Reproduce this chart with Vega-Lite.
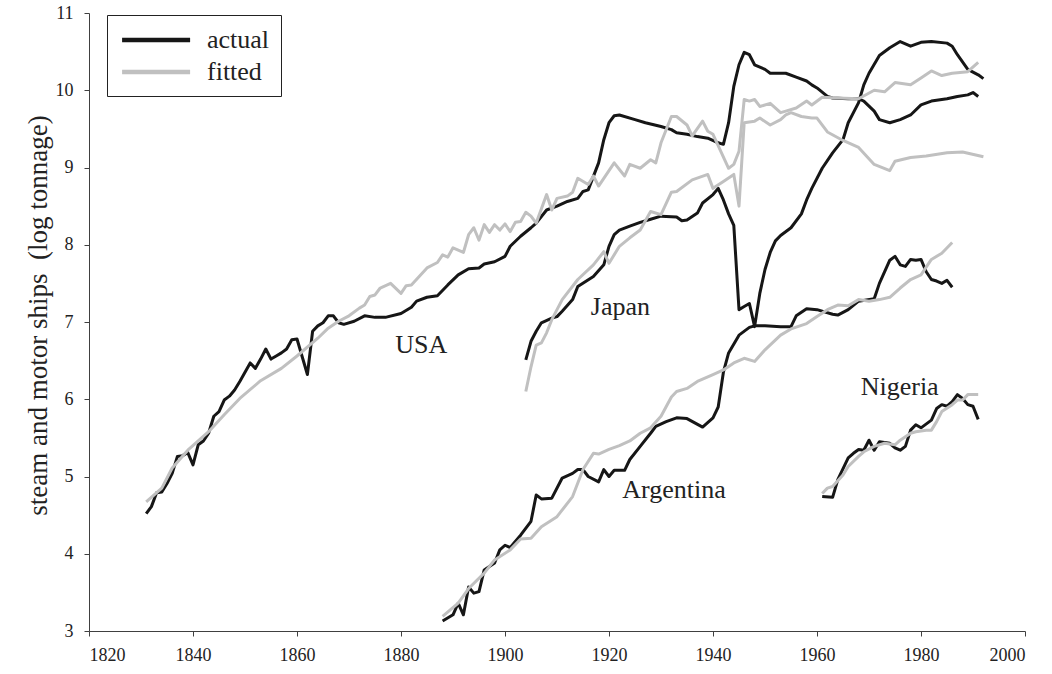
{
  "$schema": "https://vega.github.io/schema/vega-lite/v6.json",
  "width": 936,
  "height": 618,
  "autosize": {"type": "none"},
  "padding": {"left": 89, "top": 13, "right": 27, "bottom": 43},
  "background": "white",
  "config": {
    "view": {"stroke": null},
    "font": "Liberation Serif",
    "axis": {
      "labelFont": "Liberation Serif",
      "labelFontSize": 18,
      "labelColor": "#222222",
      "domainColor": "#404040",
      "tickColor": "#404040",
      "tickSize": 5,
      "grid": false,
      "titleFont": "Liberation Serif",
      "titleFontWeight": "normal",
      "titleColor": "#222222"
    },
    "legend": {
      "labelFont": "Liberation Serif",
      "labelFontSize": 26,
      "labelColor": "#222222"
    }
  },
  "datasets": {
    "lines": [
      {"country":"USA","series":"actual","year":1831,"value":4.52},
      {"country":"USA","series":"actual","year":1832,"value":4.61},
      {"country":"USA","series":"actual","year":1833,"value":4.79},
      {"country":"USA","series":"actual","year":1834,"value":4.80},
      {"country":"USA","series":"actual","year":1835,"value":4.91},
      {"country":"USA","series":"actual","year":1836,"value":5.04},
      {"country":"USA","series":"actual","year":1837,"value":5.26},
      {"country":"USA","series":"actual","year":1838,"value":5.27},
      {"country":"USA","series":"actual","year":1839,"value":5.31},
      {"country":"USA","series":"actual","year":1840,"value":5.15},
      {"country":"USA","series":"actual","year":1841,"value":5.41},
      {"country":"USA","series":"actual","year":1842,"value":5.46},
      {"country":"USA","series":"actual","year":1843,"value":5.56},
      {"country":"USA","series":"actual","year":1844,"value":5.78},
      {"country":"USA","series":"actual","year":1845,"value":5.84},
      {"country":"USA","series":"actual","year":1846,"value":5.99},
      {"country":"USA","series":"actual","year":1847,"value":6.04},
      {"country":"USA","series":"actual","year":1848,"value":6.12},
      {"country":"USA","series":"actual","year":1849,"value":6.23},
      {"country":"USA","series":"actual","year":1850,"value":6.35},
      {"country":"USA","series":"actual","year":1851,"value":6.47},
      {"country":"USA","series":"actual","year":1852,"value":6.40},
      {"country":"USA","series":"actual","year":1853,"value":6.52},
      {"country":"USA","series":"actual","year":1854,"value":6.65},
      {"country":"USA","series":"actual","year":1855,"value":6.52},
      {"country":"USA","series":"actual","year":1856,"value":6.56},
      {"country":"USA","series":"actual","year":1857,"value":6.60},
      {"country":"USA","series":"actual","year":1858,"value":6.65},
      {"country":"USA","series":"actual","year":1859,"value":6.77},
      {"country":"USA","series":"actual","year":1860,"value":6.78},
      {"country":"USA","series":"actual","year":1862,"value":6.32},
      {"country":"USA","series":"actual","year":1863,"value":6.88},
      {"country":"USA","series":"actual","year":1864,"value":6.95},
      {"country":"USA","series":"actual","year":1865,"value":6.99},
      {"country":"USA","series":"actual","year":1866,"value":7.08},
      {"country":"USA","series":"actual","year":1867,"value":7.08},
      {"country":"USA","series":"actual","year":1868,"value":6.99},
      {"country":"USA","series":"actual","year":1869,"value":6.97},
      {"country":"USA","series":"actual","year":1871,"value":7.01},
      {"country":"USA","series":"actual","year":1873,"value":7.08},
      {"country":"USA","series":"actual","year":1875,"value":7.06},
      {"country":"USA","series":"actual","year":1877,"value":7.06},
      {"country":"USA","series":"actual","year":1880,"value":7.11},
      {"country":"USA","series":"actual","year":1882,"value":7.19},
      {"country":"USA","series":"actual","year":1883,"value":7.27},
      {"country":"USA","series":"actual","year":1885,"value":7.32},
      {"country":"USA","series":"actual","year":1887,"value":7.34},
      {"country":"USA","series":"actual","year":1889,"value":7.48},
      {"country":"USA","series":"actual","year":1891,"value":7.61},
      {"country":"USA","series":"actual","year":1893,"value":7.69},
      {"country":"USA","series":"actual","year":1895,"value":7.70},
      {"country":"USA","series":"actual","year":1896,"value":7.75},
      {"country":"USA","series":"actual","year":1898,"value":7.78},
      {"country":"USA","series":"actual","year":1900,"value":7.85},
      {"country":"USA","series":"actual","year":1901,"value":7.98},
      {"country":"USA","series":"actual","year":1903,"value":8.11},
      {"country":"USA","series":"actual","year":1905,"value":8.22},
      {"country":"USA","series":"actual","year":1906,"value":8.28},
      {"country":"USA","series":"actual","year":1908,"value":8.45},
      {"country":"USA","series":"actual","year":1910,"value":8.50},
      {"country":"USA","series":"actual","year":1912,"value":8.56},
      {"country":"USA","series":"actual","year":1914,"value":8.60},
      {"country":"USA","series":"actual","year":1915,"value":8.69},
      {"country":"USA","series":"actual","year":1916,"value":8.71},
      {"country":"USA","series":"actual","year":1918,"value":9.06},
      {"country":"USA","series":"actual","year":1919,"value":9.36},
      {"country":"USA","series":"actual","year":1920,"value":9.58},
      {"country":"USA","series":"actual","year":1921,"value":9.67},
      {"country":"USA","series":"actual","year":1922,"value":9.68},
      {"country":"USA","series":"actual","year":1925,"value":9.62},
      {"country":"USA","series":"actual","year":1927,"value":9.58},
      {"country":"USA","series":"actual","year":1930,"value":9.53},
      {"country":"USA","series":"actual","year":1932,"value":9.49},
      {"country":"USA","series":"actual","year":1933,"value":9.45},
      {"country":"USA","series":"actual","year":1935,"value":9.43},
      {"country":"USA","series":"actual","year":1937,"value":9.40},
      {"country":"USA","series":"actual","year":1939,"value":9.38},
      {"country":"USA","series":"actual","year":1941,"value":9.32},
      {"country":"USA","series":"actual","year":1942,"value":9.30},
      {"country":"USA","series":"actual","year":1943,"value":9.58},
      {"country":"USA","series":"actual","year":1944,"value":10.05},
      {"country":"USA","series":"actual","year":1945,"value":10.33},
      {"country":"USA","series":"actual","year":1946,"value":10.49},
      {"country":"USA","series":"actual","year":1947,"value":10.46},
      {"country":"USA","series":"actual","year":1948,"value":10.33},
      {"country":"USA","series":"actual","year":1950,"value":10.27},
      {"country":"USA","series":"actual","year":1951,"value":10.22},
      {"country":"USA","series":"actual","year":1954,"value":10.22},
      {"country":"USA","series":"actual","year":1956,"value":10.17},
      {"country":"USA","series":"actual","year":1958,"value":10.12},
      {"country":"USA","series":"actual","year":1959,"value":10.07},
      {"country":"USA","series":"actual","year":1960,"value":10.03},
      {"country":"USA","series":"actual","year":1962,"value":9.92},
      {"country":"USA","series":"actual","year":1963,"value":9.90},
      {"country":"USA","series":"actual","year":1966,"value":9.89},
      {"country":"USA","series":"actual","year":1968,"value":9.89},
      {"country":"USA","series":"actual","year":1969,"value":9.86},
      {"country":"USA","series":"actual","year":1971,"value":9.73},
      {"country":"USA","series":"actual","year":1972,"value":9.62},
      {"country":"USA","series":"actual","year":1974,"value":9.58},
      {"country":"USA","series":"actual","year":1976,"value":9.62},
      {"country":"USA","series":"actual","year":1978,"value":9.68},
      {"country":"USA","series":"actual","year":1980,"value":9.81},
      {"country":"USA","series":"actual","year":1982,"value":9.86},
      {"country":"USA","series":"actual","year":1985,"value":9.89},
      {"country":"USA","series":"actual","year":1987,"value":9.92},
      {"country":"USA","series":"actual","year":1989,"value":9.94},
      {"country":"USA","series":"actual","year":1990,"value":9.97},
      {"country":"USA","series":"actual","year":1991,"value":9.92},

      {"country":"USA","series":"fitted","year":1831,"value":4.67},
      {"country":"USA","series":"fitted","year":1834,"value":4.85},
      {"country":"USA","series":"fitted","year":1836,"value":5.11},
      {"country":"USA","series":"fitted","year":1839,"value":5.34},
      {"country":"USA","series":"fitted","year":1843,"value":5.58},
      {"country":"USA","series":"fitted","year":1846,"value":5.80},
      {"country":"USA","series":"fitted","year":1849,"value":6.01},
      {"country":"USA","series":"fitted","year":1853,"value":6.24},
      {"country":"USA","series":"fitted","year":1857,"value":6.40},
      {"country":"USA","series":"fitted","year":1860,"value":6.56},
      {"country":"USA","series":"fitted","year":1864,"value":6.79},
      {"country":"USA","series":"fitted","year":1866,"value":6.92},
      {"country":"USA","series":"fitted","year":1868,"value":7.01},
      {"country":"USA","series":"fitted","year":1870,"value":7.08},
      {"country":"USA","series":"fitted","year":1872,"value":7.18},
      {"country":"USA","series":"fitted","year":1873,"value":7.22},
      {"country":"USA","series":"fitted","year":1874,"value":7.33},
      {"country":"USA","series":"fitted","year":1875,"value":7.35},
      {"country":"USA","series":"fitted","year":1876,"value":7.44},
      {"country":"USA","series":"fitted","year":1878,"value":7.50},
      {"country":"USA","series":"fitted","year":1880,"value":7.37},
      {"country":"USA","series":"fitted","year":1881,"value":7.47},
      {"country":"USA","series":"fitted","year":1882,"value":7.48},
      {"country":"USA","series":"fitted","year":1885,"value":7.70},
      {"country":"USA","series":"fitted","year":1887,"value":7.77},
      {"country":"USA","series":"fitted","year":1888,"value":7.87},
      {"country":"USA","series":"fitted","year":1889,"value":7.84},
      {"country":"USA","series":"fitted","year":1890,"value":7.96},
      {"country":"USA","series":"fitted","year":1892,"value":7.90},
      {"country":"USA","series":"fitted","year":1893,"value":8.13},
      {"country":"USA","series":"fitted","year":1894,"value":8.22},
      {"country":"USA","series":"fitted","year":1895,"value":8.06},
      {"country":"USA","series":"fitted","year":1896,"value":8.26},
      {"country":"USA","series":"fitted","year":1897,"value":8.16},
      {"country":"USA","series":"fitted","year":1898,"value":8.26},
      {"country":"USA","series":"fitted","year":1899,"value":8.19},
      {"country":"USA","series":"fitted","year":1900,"value":8.27},
      {"country":"USA","series":"fitted","year":1901,"value":8.17},
      {"country":"USA","series":"fitted","year":1902,"value":8.29},
      {"country":"USA","series":"fitted","year":1903,"value":8.30},
      {"country":"USA","series":"fitted","year":1904,"value":8.42},
      {"country":"USA","series":"fitted","year":1905,"value":8.37},
      {"country":"USA","series":"fitted","year":1906,"value":8.28},
      {"country":"USA","series":"fitted","year":1908,"value":8.65},
      {"country":"USA","series":"fitted","year":1909,"value":8.45},
      {"country":"USA","series":"fitted","year":1910,"value":8.60},
      {"country":"USA","series":"fitted","year":1912,"value":8.63},
      {"country":"USA","series":"fitted","year":1913,"value":8.68},
      {"country":"USA","series":"fitted","year":1914,"value":8.86},
      {"country":"USA","series":"fitted","year":1916,"value":8.78},
      {"country":"USA","series":"fitted","year":1917,"value":8.89},
      {"country":"USA","series":"fitted","year":1918,"value":8.76},
      {"country":"USA","series":"fitted","year":1921,"value":9.06},
      {"country":"USA","series":"fitted","year":1923,"value":8.89},
      {"country":"USA","series":"fitted","year":1924,"value":9.04},
      {"country":"USA","series":"fitted","year":1926,"value":8.99},
      {"country":"USA","series":"fitted","year":1928,"value":9.10},
      {"country":"USA","series":"fitted","year":1929,"value":9.06},
      {"country":"USA","series":"fitted","year":1930,"value":9.32},
      {"country":"USA","series":"fitted","year":1932,"value":9.66},
      {"country":"USA","series":"fitted","year":1933,"value":9.66},
      {"country":"USA","series":"fitted","year":1935,"value":9.55},
      {"country":"USA","series":"fitted","year":1936,"value":9.41},
      {"country":"USA","series":"fitted","year":1938,"value":9.60},
      {"country":"USA","series":"fitted","year":1939,"value":9.47},
      {"country":"USA","series":"fitted","year":1940,"value":9.43},
      {"country":"USA","series":"fitted","year":1943,"value":8.99},
      {"country":"USA","series":"fitted","year":1944,"value":9.04},
      {"country":"USA","series":"fitted","year":1945,"value":9.21},
      {"country":"USA","series":"fitted","year":1946,"value":9.88},
      {"country":"USA","series":"fitted","year":1947,"value":9.86},
      {"country":"USA","series":"fitted","year":1948,"value":9.88},
      {"country":"USA","series":"fitted","year":1949,"value":9.79},
      {"country":"USA","series":"fitted","year":1951,"value":9.83},
      {"country":"USA","series":"fitted","year":1953,"value":9.71},
      {"country":"USA","series":"fitted","year":1954,"value":9.73},
      {"country":"USA","series":"fitted","year":1956,"value":9.77},
      {"country":"USA","series":"fitted","year":1958,"value":9.86},
      {"country":"USA","series":"fitted","year":1959,"value":9.81},
      {"country":"USA","series":"fitted","year":1961,"value":9.91},
      {"country":"USA","series":"fitted","year":1964,"value":9.90},
      {"country":"USA","series":"fitted","year":1968,"value":9.89},
      {"country":"USA","series":"fitted","year":1971,"value":10.00},
      {"country":"USA","series":"fitted","year":1973,"value":9.98},
      {"country":"USA","series":"fitted","year":1975,"value":10.10},
      {"country":"USA","series":"fitted","year":1978,"value":10.07},
      {"country":"USA","series":"fitted","year":1980,"value":10.16},
      {"country":"USA","series":"fitted","year":1982,"value":10.25},
      {"country":"USA","series":"fitted","year":1984,"value":10.19},
      {"country":"USA","series":"fitted","year":1986,"value":10.22},
      {"country":"USA","series":"fitted","year":1989,"value":10.24},
      {"country":"USA","series":"fitted","year":1991,"value":10.36},

      {"country":"Japan","series":"actual","year":1904,"value":6.51},
      {"country":"Japan","series":"actual","year":1905,"value":6.75},
      {"country":"Japan","series":"actual","year":1906,"value":6.88},
      {"country":"Japan","series":"actual","year":1907,"value":6.99},
      {"country":"Japan","series":"actual","year":1909,"value":7.05},
      {"country":"Japan","series":"actual","year":1910,"value":7.07},
      {"country":"Japan","series":"actual","year":1911,"value":7.14},
      {"country":"Japan","series":"actual","year":1913,"value":7.29},
      {"country":"Japan","series":"actual","year":1914,"value":7.46},
      {"country":"Japan","series":"actual","year":1917,"value":7.59},
      {"country":"Japan","series":"actual","year":1919,"value":7.74},
      {"country":"Japan","series":"actual","year":1920,"value":7.98},
      {"country":"Japan","series":"actual","year":1921,"value":8.13},
      {"country":"Japan","series":"actual","year":1922,"value":8.19},
      {"country":"Japan","series":"actual","year":1924,"value":8.24},
      {"country":"Japan","series":"actual","year":1926,"value":8.29},
      {"country":"Japan","series":"actual","year":1928,"value":8.33},
      {"country":"Japan","series":"actual","year":1930,"value":8.37},
      {"country":"Japan","series":"actual","year":1933,"value":8.36},
      {"country":"Japan","series":"actual","year":1934,"value":8.31},
      {"country":"Japan","series":"actual","year":1935,"value":8.32},
      {"country":"Japan","series":"actual","year":1937,"value":8.41},
      {"country":"Japan","series":"actual","year":1938,"value":8.54},
      {"country":"Japan","series":"actual","year":1940,"value":8.65},
      {"country":"Japan","series":"actual","year":1941,"value":8.73},
      {"country":"Japan","series":"actual","year":1942,"value":8.58},
      {"country":"Japan","series":"actual","year":1943,"value":8.40},
      {"country":"Japan","series":"actual","year":1944,"value":8.25},
      {"country":"Japan","series":"actual","year":1945,"value":7.16},
      {"country":"Japan","series":"actual","year":1946,"value":7.20},
      {"country":"Japan","series":"actual","year":1947,"value":7.24},
      {"country":"Japan","series":"actual","year":1948,"value":6.94},
      {"country":"Japan","series":"actual","year":1949,"value":7.37},
      {"country":"Japan","series":"actual","year":1950,"value":7.68},
      {"country":"Japan","series":"actual","year":1951,"value":7.90},
      {"country":"Japan","series":"actual","year":1952,"value":8.05},
      {"country":"Japan","series":"actual","year":1953,"value":8.12},
      {"country":"Japan","series":"actual","year":1955,"value":8.22},
      {"country":"Japan","series":"actual","year":1957,"value":8.40},
      {"country":"Japan","series":"actual","year":1958,"value":8.58},
      {"country":"Japan","series":"actual","year":1959,"value":8.73},
      {"country":"Japan","series":"actual","year":1961,"value":8.99},
      {"country":"Japan","series":"actual","year":1963,"value":9.19},
      {"country":"Japan","series":"actual","year":1965,"value":9.36},
      {"country":"Japan","series":"actual","year":1966,"value":9.58},
      {"country":"Japan","series":"actual","year":1968,"value":9.84},
      {"country":"Japan","series":"actual","year":1969,"value":10.07},
      {"country":"Japan","series":"actual","year":1970,"value":10.22},
      {"country":"Japan","series":"actual","year":1972,"value":10.45},
      {"country":"Japan","series":"actual","year":1974,"value":10.55},
      {"country":"Japan","series":"actual","year":1976,"value":10.63},
      {"country":"Japan","series":"actual","year":1978,"value":10.57},
      {"country":"Japan","series":"actual","year":1980,"value":10.62},
      {"country":"Japan","series":"actual","year":1982,"value":10.63},
      {"country":"Japan","series":"actual","year":1985,"value":10.61},
      {"country":"Japan","series":"actual","year":1986,"value":10.57},
      {"country":"Japan","series":"actual","year":1987,"value":10.46},
      {"country":"Japan","series":"actual","year":1989,"value":10.27},
      {"country":"Japan","series":"actual","year":1991,"value":10.20},
      {"country":"Japan","series":"actual","year":1992,"value":10.15},

      {"country":"Japan","series":"fitted","year":1904,"value":6.10},
      {"country":"Japan","series":"fitted","year":1905,"value":6.42},
      {"country":"Japan","series":"fitted","year":1906,"value":6.70},
      {"country":"Japan","series":"fitted","year":1907,"value":6.73},
      {"country":"Japan","series":"fitted","year":1908,"value":6.86},
      {"country":"Japan","series":"fitted","year":1909,"value":7.03},
      {"country":"Japan","series":"fitted","year":1911,"value":7.29},
      {"country":"Japan","series":"fitted","year":1914,"value":7.55},
      {"country":"Japan","series":"fitted","year":1917,"value":7.74},
      {"country":"Japan","series":"fitted","year":1919,"value":7.91},
      {"country":"Japan","series":"fitted","year":1920,"value":7.76},
      {"country":"Japan","series":"fitted","year":1922,"value":7.98},
      {"country":"Japan","series":"fitted","year":1924,"value":8.09},
      {"country":"Japan","series":"fitted","year":1926,"value":8.19},
      {"country":"Japan","series":"fitted","year":1928,"value":8.43},
      {"country":"Japan","series":"fitted","year":1930,"value":8.39},
      {"country":"Japan","series":"fitted","year":1932,"value":8.68},
      {"country":"Japan","series":"fitted","year":1933,"value":8.69},
      {"country":"Japan","series":"fitted","year":1936,"value":8.84},
      {"country":"Japan","series":"fitted","year":1939,"value":8.91},
      {"country":"Japan","series":"fitted","year":1940,"value":8.73},
      {"country":"Japan","series":"fitted","year":1942,"value":8.82},
      {"country":"Japan","series":"fitted","year":1944,"value":8.91},
      {"country":"Japan","series":"fitted","year":1945,"value":8.50},
      {"country":"Japan","series":"fitted","year":1946,"value":9.58},
      {"country":"Japan","series":"fitted","year":1948,"value":9.60},
      {"country":"Japan","series":"fitted","year":1949,"value":9.64},
      {"country":"Japan","series":"fitted","year":1951,"value":9.55},
      {"country":"Japan","series":"fitted","year":1953,"value":9.62},
      {"country":"Japan","series":"fitted","year":1954,"value":9.68},
      {"country":"Japan","series":"fitted","year":1955,"value":9.71},
      {"country":"Japan","series":"fitted","year":1957,"value":9.66},
      {"country":"Japan","series":"fitted","year":1959,"value":9.64},
      {"country":"Japan","series":"fitted","year":1960,"value":9.64},
      {"country":"Japan","series":"fitted","year":1962,"value":9.46},
      {"country":"Japan","series":"fitted","year":1965,"value":9.35},
      {"country":"Japan","series":"fitted","year":1968,"value":9.26},
      {"country":"Japan","series":"fitted","year":1971,"value":9.04},
      {"country":"Japan","series":"fitted","year":1974,"value":8.96},
      {"country":"Japan","series":"fitted","year":1975,"value":9.08},
      {"country":"Japan","series":"fitted","year":1978,"value":9.13},
      {"country":"Japan","series":"fitted","year":1981,"value":9.15},
      {"country":"Japan","series":"fitted","year":1985,"value":9.19},
      {"country":"Japan","series":"fitted","year":1988,"value":9.20},
      {"country":"Japan","series":"fitted","year":1992,"value":9.14},

      {"country":"Argentina","series":"actual","year":1888,"value":3.13},
      {"country":"Argentina","series":"actual","year":1890,"value":3.21},
      {"country":"Argentina","series":"actual","year":1891,"value":3.36},
      {"country":"Argentina","series":"actual","year":1892,"value":3.21},
      {"country":"Argentina","series":"actual","year":1893,"value":3.57},
      {"country":"Argentina","series":"actual","year":1894,"value":3.49},
      {"country":"Argentina","series":"actual","year":1895,"value":3.51},
      {"country":"Argentina","series":"actual","year":1896,"value":3.79},
      {"country":"Argentina","series":"actual","year":1898,"value":3.88},
      {"country":"Argentina","series":"actual","year":1899,"value":4.05},
      {"country":"Argentina","series":"actual","year":1900,"value":4.11},
      {"country":"Argentina","series":"actual","year":1901,"value":4.08},
      {"country":"Argentina","series":"actual","year":1903,"value":4.24},
      {"country":"Argentina","series":"actual","year":1905,"value":4.42},
      {"country":"Argentina","series":"actual","year":1906,"value":4.76},
      {"country":"Argentina","series":"actual","year":1907,"value":4.71},
      {"country":"Argentina","series":"actual","year":1909,"value":4.72},
      {"country":"Argentina","series":"actual","year":1911,"value":4.98},
      {"country":"Argentina","series":"actual","year":1913,"value":5.04},
      {"country":"Argentina","series":"actual","year":1914,"value":5.09},
      {"country":"Argentina","series":"actual","year":1915,"value":5.09},
      {"country":"Argentina","series":"actual","year":1916,"value":5.00},
      {"country":"Argentina","series":"actual","year":1918,"value":4.93},
      {"country":"Argentina","series":"actual","year":1919,"value":5.09},
      {"country":"Argentina","series":"actual","year":1920,"value":5.00},
      {"country":"Argentina","series":"actual","year":1921,"value":5.08},
      {"country":"Argentina","series":"actual","year":1923,"value":5.08},
      {"country":"Argentina","series":"actual","year":1924,"value":5.22},
      {"country":"Argentina","series":"actual","year":1926,"value":5.39},
      {"country":"Argentina","series":"actual","year":1928,"value":5.56},
      {"country":"Argentina","series":"actual","year":1929,"value":5.65},
      {"country":"Argentina","series":"actual","year":1931,"value":5.71},
      {"country":"Argentina","series":"actual","year":1933,"value":5.76},
      {"country":"Argentina","series":"actual","year":1935,"value":5.75},
      {"country":"Argentina","series":"actual","year":1938,"value":5.64},
      {"country":"Argentina","series":"actual","year":1940,"value":5.76},
      {"country":"Argentina","series":"actual","year":1941,"value":5.90},
      {"country":"Argentina","series":"actual","year":1942,"value":6.35},
      {"country":"Argentina","series":"actual","year":1943,"value":6.60},
      {"country":"Argentina","series":"actual","year":1945,"value":6.83},
      {"country":"Argentina","series":"actual","year":1947,"value":6.93},
      {"country":"Argentina","series":"actual","year":1948,"value":6.95},
      {"country":"Argentina","series":"actual","year":1950,"value":6.95},
      {"country":"Argentina","series":"actual","year":1953,"value":6.94},
      {"country":"Argentina","series":"actual","year":1955,"value":6.94},
      {"country":"Argentina","series":"actual","year":1956,"value":7.08},
      {"country":"Argentina","series":"actual","year":1958,"value":7.17},
      {"country":"Argentina","series":"actual","year":1960,"value":7.16},
      {"country":"Argentina","series":"actual","year":1963,"value":7.10},
      {"country":"Argentina","series":"actual","year":1964,"value":7.09},
      {"country":"Argentina","series":"actual","year":1966,"value":7.16},
      {"country":"Argentina","series":"actual","year":1968,"value":7.27},
      {"country":"Argentina","series":"actual","year":1971,"value":7.30},
      {"country":"Argentina","series":"actual","year":1972,"value":7.50},
      {"country":"Argentina","series":"actual","year":1974,"value":7.80},
      {"country":"Argentina","series":"actual","year":1975,"value":7.85},
      {"country":"Argentina","series":"actual","year":1976,"value":7.74},
      {"country":"Argentina","series":"actual","year":1977,"value":7.72},
      {"country":"Argentina","series":"actual","year":1978,"value":7.81},
      {"country":"Argentina","series":"actual","year":1979,"value":7.80},
      {"country":"Argentina","series":"actual","year":1980,"value":7.81},
      {"country":"Argentina","series":"actual","year":1981,"value":7.65},
      {"country":"Argentina","series":"actual","year":1982,"value":7.55},
      {"country":"Argentina","series":"actual","year":1983,"value":7.53},
      {"country":"Argentina","series":"actual","year":1984,"value":7.50},
      {"country":"Argentina","series":"actual","year":1985,"value":7.54},
      {"country":"Argentina","series":"actual","year":1986,"value":7.45},

      {"country":"Argentina","series":"fitted","year":1888,"value":3.19},
      {"country":"Argentina","series":"fitted","year":1891,"value":3.36},
      {"country":"Argentina","series":"fitted","year":1893,"value":3.55},
      {"country":"Argentina","series":"fitted","year":1896,"value":3.75},
      {"country":"Argentina","series":"fitted","year":1898,"value":3.92},
      {"country":"Argentina","series":"fitted","year":1901,"value":4.05},
      {"country":"Argentina","series":"fitted","year":1903,"value":4.19},
      {"country":"Argentina","series":"fitted","year":1905,"value":4.20},
      {"country":"Argentina","series":"fitted","year":1907,"value":4.35},
      {"country":"Argentina","series":"fitted","year":1910,"value":4.48},
      {"country":"Argentina","series":"fitted","year":1913,"value":4.74},
      {"country":"Argentina","series":"fitted","year":1915,"value":5.09},
      {"country":"Argentina","series":"fitted","year":1917,"value":5.30},
      {"country":"Argentina","series":"fitted","year":1918,"value":5.29},
      {"country":"Argentina","series":"fitted","year":1920,"value":5.35},
      {"country":"Argentina","series":"fitted","year":1922,"value":5.40},
      {"country":"Argentina","series":"fitted","year":1924,"value":5.46},
      {"country":"Argentina","series":"fitted","year":1926,"value":5.56},
      {"country":"Argentina","series":"fitted","year":1928,"value":5.63},
      {"country":"Argentina","series":"fitted","year":1930,"value":5.78},
      {"country":"Argentina","series":"fitted","year":1932,"value":6.03},
      {"country":"Argentina","series":"fitted","year":1933,"value":6.10},
      {"country":"Argentina","series":"fitted","year":1935,"value":6.14},
      {"country":"Argentina","series":"fitted","year":1937,"value":6.23},
      {"country":"Argentina","series":"fitted","year":1940,"value":6.32},
      {"country":"Argentina","series":"fitted","year":1942,"value":6.38},
      {"country":"Argentina","series":"fitted","year":1944,"value":6.47},
      {"country":"Argentina","series":"fitted","year":1946,"value":6.53},
      {"country":"Argentina","series":"fitted","year":1948,"value":6.49},
      {"country":"Argentina","series":"fitted","year":1950,"value":6.64},
      {"country":"Argentina","series":"fitted","year":1953,"value":6.83},
      {"country":"Argentina","series":"fitted","year":1955,"value":6.91},
      {"country":"Argentina","series":"fitted","year":1958,"value":6.98},
      {"country":"Argentina","series":"fitted","year":1960,"value":7.07},
      {"country":"Argentina","series":"fitted","year":1962,"value":7.16},
      {"country":"Argentina","series":"fitted","year":1964,"value":7.22},
      {"country":"Argentina","series":"fitted","year":1966,"value":7.21},
      {"country":"Argentina","series":"fitted","year":1968,"value":7.29},
      {"country":"Argentina","series":"fitted","year":1970,"value":7.27},
      {"country":"Argentina","series":"fitted","year":1972,"value":7.29},
      {"country":"Argentina","series":"fitted","year":1974,"value":7.32},
      {"country":"Argentina","series":"fitted","year":1976,"value":7.44},
      {"country":"Argentina","series":"fitted","year":1978,"value":7.55},
      {"country":"Argentina","series":"fitted","year":1980,"value":7.61},
      {"country":"Argentina","series":"fitted","year":1982,"value":7.81},
      {"country":"Argentina","series":"fitted","year":1984,"value":7.89},
      {"country":"Argentina","series":"fitted","year":1986,"value":8.03},

      {"country":"Nigeria","series":"actual","year":1961,"value":4.74},
      {"country":"Nigeria","series":"actual","year":1963,"value":4.73},
      {"country":"Nigeria","series":"actual","year":1964,"value":4.96},
      {"country":"Nigeria","series":"actual","year":1966,"value":5.24},
      {"country":"Nigeria","series":"actual","year":1967,"value":5.30},
      {"country":"Nigeria","series":"actual","year":1968,"value":5.35},
      {"country":"Nigeria","series":"actual","year":1969,"value":5.34},
      {"country":"Nigeria","series":"actual","year":1970,"value":5.47},
      {"country":"Nigeria","series":"actual","year":1971,"value":5.34},
      {"country":"Nigeria","series":"actual","year":1972,"value":5.45},
      {"country":"Nigeria","series":"actual","year":1974,"value":5.43},
      {"country":"Nigeria","series":"actual","year":1975,"value":5.37},
      {"country":"Nigeria","series":"actual","year":1976,"value":5.34},
      {"country":"Nigeria","series":"actual","year":1977,"value":5.39},
      {"country":"Nigeria","series":"actual","year":1978,"value":5.60},
      {"country":"Nigeria","series":"actual","year":1979,"value":5.67},
      {"country":"Nigeria","series":"actual","year":1980,"value":5.63},
      {"country":"Nigeria","series":"actual","year":1982,"value":5.73},
      {"country":"Nigeria","series":"actual","year":1983,"value":5.88},
      {"country":"Nigeria","series":"actual","year":1984,"value":5.93},
      {"country":"Nigeria","series":"actual","year":1985,"value":5.91},
      {"country":"Nigeria","series":"actual","year":1986,"value":5.97},
      {"country":"Nigeria","series":"actual","year":1987,"value":6.06},
      {"country":"Nigeria","series":"actual","year":1988,"value":6.01},
      {"country":"Nigeria","series":"actual","year":1989,"value":5.93},
      {"country":"Nigeria","series":"actual","year":1990,"value":5.91},
      {"country":"Nigeria","series":"actual","year":1991,"value":5.74},

      {"country":"Nigeria","series":"fitted","year":1961,"value":4.78},
      {"country":"Nigeria","series":"fitted","year":1962,"value":4.85},
      {"country":"Nigeria","series":"fitted","year":1963,"value":4.87},
      {"country":"Nigeria","series":"fitted","year":1965,"value":5.02},
      {"country":"Nigeria","series":"fitted","year":1966,"value":5.13},
      {"country":"Nigeria","series":"fitted","year":1968,"value":5.26},
      {"country":"Nigeria","series":"fitted","year":1969,"value":5.32},
      {"country":"Nigeria","series":"fitted","year":1971,"value":5.39},
      {"country":"Nigeria","series":"fitted","year":1973,"value":5.43},
      {"country":"Nigeria","series":"fitted","year":1975,"value":5.41},
      {"country":"Nigeria","series":"fitted","year":1976,"value":5.47},
      {"country":"Nigeria","series":"fitted","year":1978,"value":5.56},
      {"country":"Nigeria","series":"fitted","year":1979,"value":5.58},
      {"country":"Nigeria","series":"fitted","year":1981,"value":5.60},
      {"country":"Nigeria","series":"fitted","year":1982,"value":5.60},
      {"country":"Nigeria","series":"fitted","year":1983,"value":5.71},
      {"country":"Nigeria","series":"fitted","year":1984,"value":5.84},
      {"country":"Nigeria","series":"fitted","year":1986,"value":5.93},
      {"country":"Nigeria","series":"fitted","year":1987,"value":5.99},
      {"country":"Nigeria","series":"fitted","year":1988,"value":5.99},
      {"country":"Nigeria","series":"fitted","year":1989,"value":6.06},
      {"country":"Nigeria","series":"fitted","year":1991,"value":6.06}
    ],
    "labels": [
      {"label":"USA","year":1883.9,"value":6.60},
      {"label":"Japan","year":1922.2,"value":7.09},
      {"label":"Argentina","year":1932.5,"value":4.72},
      {"label":"Nigeria","year":1975.9,"value":6.06}
    ]
  },
  "layer": [
    {
      "data": {"name": "lines"},
      "transform": [{"filter": "datum.series === 'actual'"}],
      "mark": {"type": "line", "strokeWidth": 3, "strokeJoin": "round"},
      "encoding": {
        "x": {
          "field": "year", "type": "quantitative",
          "scale": {"domain": [1820, 2000], "nice": false, "zero": false},
          "axis": {"title": null, "values": [1820,1840,1860,1880,1900,1920,1940,1960,1980,2000], "format": "d", "labelPadding": 10, "labelFont": "Liberation Serif"}
        },
        "y": {
          "field": "value", "type": "quantitative",
          "scale": {"domain": [3, 11], "nice": false, "zero": false},
          "axis": {
            "title": "steam and motor ships \u00a0(log tonnage)",
            "titleFont": "Liberation Serif",
            "titleFontSize": 27,
            "titleFontWeight": "normal",
            "titleY": 302,
            "values": [3,4,5,6,7,8,9,10,11],
            "format": "d",
            "labelFont": "Liberation Serif",
            "labelPadding": 11,
            "titlePadding": 3
          }
        },
        "color": {
          "field": "series", "type": "nominal",
          "scale": {"domain": ["actual", "fitted"], "range": ["#161616", "#c0c0c0"]},
          "legend": {
            "title": null,
            "orient": "none",
            "legendX": 18,
            "legendY": 2,
            "symbolType": "M-0.874,0H5.126",
            "symbolSize": 514,
            "symbolStrokeWidth": 4.5,
            "labelOffset": 61,
            "rowPadding": 5,
            "padding": 11,
            "strokeColor": "#222222",
            "fillColor": "white"
          }
        },
        "detail": {"field": "country"}
      }
    },
    {
      "data": {"name": "lines"},
      "transform": [{"filter": "datum.series === 'fitted'"}],
      "mark": {"type": "line", "strokeWidth": 3, "strokeJoin": "round"},
      "encoding": {
        "x": {"field": "year", "type": "quantitative"},
        "y": {"field": "value", "type": "quantitative"},
        "color": {"field": "series", "type": "nominal"},
        "detail": {"field": "country"}
      }
    },
    {
      "data": {"name": "labels"},
      "mark": {"type": "text", "font": "Liberation Serif", "fontSize": 26, "align": "center", "baseline": "alphabetic", "color": "#222222"},
      "encoding": {
        "x": {"field": "year", "type": "quantitative"},
        "y": {"field": "value", "type": "quantitative"},
        "text": {"field": "label"}
      }
    }
  ]
}
